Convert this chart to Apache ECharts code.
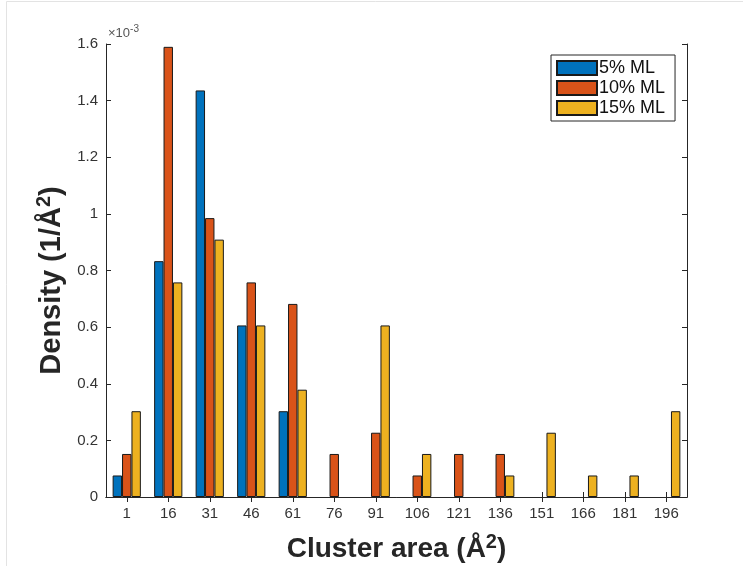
<!DOCTYPE html>
<html>
<head>
<meta charset="utf-8">
<script src="https://cdn.jsdelivr.net/npm/echarts@6/dist/echarts.min.js"></script>
<style>
  html, body { margin: 0; padding: 0; background: #fff; }
  #chart { width: 743px; height: 566px; }
</style>
</head>
<body>
<div id="chart"></div>
<script>
// cluster area bins
var categories = ['1', '16', '31', '46', '61', '76', '91', '106', '121', '136', '151', '166', '181', '196']
// density values, in units of 1e-3
var ml5 = [0.076, 0.833, 1.436, 0.606, 0.303, 0, 0, 0, 0, 0, 0, 0, 0, 0]
var ml10 = [0.152, 1.59, 0.985, 0.758, 0.682, 0.152, 0.227, 0.076, 0.152, 0.152, 0, 0, 0, 0]
var ml15 = [0.303, 0.758, 0.909, 0.606, 0.379, 0, 0.606, 0.152, 0, 0.076, 0.227, 0.076, 0.076, 0.303]
var yTicks = { min: 0, max: 1.6, step: 0.2 }

var font = 'Liberation Sans, Arial, Helvetica, sans-serif'
var chart = echarts.init(document.getElementById('chart'))

function barSeries(name, data, color) {
  return {
    name: name,
    type: 'bar',
    // empty bins get no bar at all (otherwise the border draws a flat line)
    data: data.map(function (v) { return v === 0 ? '-' : v }),
    barGap: '0%',
    barCategoryGap: '32%',
    itemStyle: { color: color, borderColor: '#1a1a1a', borderWidth: 1 }
  }
}

var tickStyle = { show: true, inside: true, length: 5, lineStyle: { color: '#262626' } }
var lineStyle = { show: true, lineStyle: { color: '#262626', width: 1 } }

function titleRich(size) {
  return {
    a: { fontSize: size, fontWeight: 'bold', color: '#262626', fontFamily: font },
    s: { fontSize: Math.round(size * 0.7), fontWeight: 'bold', color: '#262626', fontFamily: font,
         verticalAlign: 'top', padding: [0, 0, Math.round(size * 0.5), 0] }
  }
}

chart.setOption({
  animation: false,
  textStyle: { fontFamily: font },
  graphic: [
    {
      type: 'rect', silent: true,
      shape: { x: 6.5, y: 1.5, width: 800, height: 700 },
      style: { fill: 'none', stroke: '#e3e3e3', lineWidth: 1 }
    },
    {
      type: 'text', left: 108, top: 24,
      style: {
        text: '{a|×10}{s|-3}',
        rich: {
          a: { fontSize: 13, fill: '#555', fontFamily: font },
          s: { fontSize: 10, fill: '#555', fontFamily: font, verticalAlign: 'top', padding: [0, 0, 8, 0] }
        }
      }
    }
  ],
  grid: { left: 106, right: 56, top: 44, bottom: 69, outerBoundsMode: 'none' },
  legend: {
    orient: 'vertical',
    left: 551, top: 55,
    icon: 'rect',
    itemWidth: 40, itemHeight: 14, itemGap: 2,
    padding: [4, 10, 4, 5],
    borderColor: '#262626', borderWidth: 1,
    backgroundColor: '#fff',
    textStyle: { fontSize: 18, lineHeight: 18, color: '#111', fontFamily: font, padding: [0, 0, 0, -3] },
    data: ['5% ML', '10% ML', '15% ML']
  },
  xAxis: [
    {
      type: 'category',
      data: categories,
      axisLine: lineStyle,
      axisTick: Object.assign({ alignWithLabel: true }, tickStyle),
      axisLabel: { fontSize: 15, color: '#333', margin: 9 },
      name: '{a|Cluster area (Å}{s|2}{a|)}',
      nameLocation: 'middle',
      nameGap: 35,
      nameTextStyle: { rich: titleRich(28) }
    },
    {
      type: 'category',
      data: categories,
      position: 'top',
      axisLine: lineStyle,
      axisTick: Object.assign({ alignWithLabel: true }, tickStyle),
      axisLabel: { show: false }
    }
  ],
  yAxis: [
    {
      type: 'value',
      min: yTicks.min, max: yTicks.max, interval: yTicks.step,
      splitLine: { show: false },
      axisLine: lineStyle,
      axisTick: tickStyle,
      axisLabel: { fontSize: 15, color: '#333', margin: 8 },
      name: '{a|Density (1/Å}{s|2}{a|)}',
      nameLocation: 'middle',
      nameGap: 31,
      nameTextStyle: { rich: titleRich(29), padding: [0, 20, 0, 0] }
    },
    {
      type: 'value',
      position: 'right',
      min: yTicks.min, max: yTicks.max, interval: yTicks.step,
      splitLine: { show: false },
      axisLine: lineStyle,
      axisTick: tickStyle,
      axisLabel: { show: false }
    }
  ],
  series: [
    barSeries('5% ML', ml5, '#0072BD'),
    barSeries('10% ML', ml10, '#D95319'),
    barSeries('15% ML', ml15, '#EDB120')
  ]
})
</script>
</body>
</html>
